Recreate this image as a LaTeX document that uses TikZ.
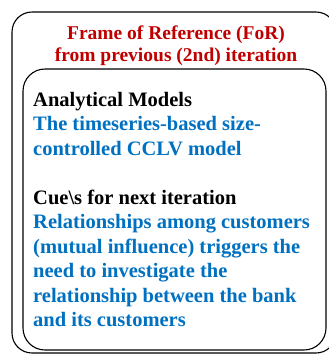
\documentclass[tikz,border=0pt]{standalone}
\usepackage{fontspec}
\setmainfont{Liberation Serif}
\usetikzlibrary{positioning}
\definecolor{forred}{HTML}{C00000}
\definecolor{forblue}{HTML}{0070C0}
\newcommand{\headfont}{\bfseries\fontsize{19.5}{22}\selectfont}
\newcommand{\bodyfont}{\bfseries\fontsize{20.5}{24.5}\selectfont}

\begin{document}
\begin{tikzpicture}[x=1pt,y=1pt,
    framebox/.style={draw,rounded corners=20pt,line width=1.1pt},
    headtext/.style={font=\headfont,text=forred,align=center,inner sep=0pt},
    bodytext/.style={font=\bodyfont,align=left,inner sep=0pt}]
  \useasboundingbox (0,0) rectangle (329,-354);
  % outer frame and inner box
  \draw[framebox] (12,-12) rectangle (336,-353);
  \draw[framebox,rounded corners=22pt] (23,-69) rectangle (326,-350);
  \node[headtext,anchor=base] (title) at (176,-61)
    {Frame of Reference (FoR)\\from previous (2nd) iteration};
  \node[bodytext,anchor=north west] (body) at (33,-92)
    {Analytical Models\\
     \textcolor{forblue}{The timeseries-based size-}\\
     \textcolor{forblue}{controlled CCLV model}\\[24.5pt]
     Cue\textbackslash s for next iteration\\
     \textcolor{forblue}{Relationships among customers}\\
     \textcolor{forblue}{(mutual influence) triggers the}\\
     \textcolor{forblue}{need to investigate the}\\
     \textcolor{forblue}{relationship between the bank}\\
     \textcolor{forblue}{and its customers}};
\end{tikzpicture}
\end{document}
